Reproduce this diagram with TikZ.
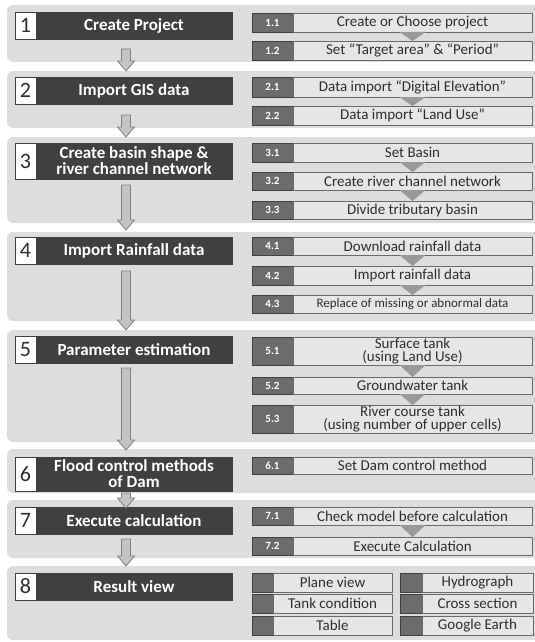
\documentclass[tikz,border=0pt]{standalone}
\usepackage{fontspec}
\setmainfont{Carlito}
\usetikzlibrary{calc}
\definecolor{panelc}{HTML}{DDDDDD}
\definecolor{darkc}{HTML}{404040}
\definecolor{subnumc}{HTML}{6C6C6C}
\definecolor{subtxtc}{HTML}{E6E6E6}
\definecolor{edgec}{HTML}{6A6A6A}
\definecolor{tric}{HTML}{999999}
\definecolor{arrfill}{HTML}{C4C4C4}
\definecolor{arredge}{HTML}{808080}
\definecolor{textc}{HTML}{2E2E2E}
\tikzset{
  panelsty/.style={fill=panelc, rounded corners=6pt},
  numbox/.style={draw=darkc, fill=white, line width=0.8pt, inner sep=0pt, outer sep=0pt,
    minimum width=21pt, text=textc, font=\fontsize{22}{22}\selectfont},
  titlebox/.style={draw=darkc, fill=darkc, inner sep=0pt, outer sep=0pt,
    minimum width=196pt, text=white, align=center, font=\bfseries\fontsize{17}{16}\selectfont},
  subnum/.style={draw=darkc, fill=subnumc, line width=0.7pt, inner sep=0pt, outer sep=0pt,
    minimum width=41pt, text=white, font=\bfseries\fontsize{11}{11}\selectfont},
  subtxt/.style={draw=edgec, fill=subtxtc, line width=0.7pt, inner sep=0pt, outer sep=0pt,
    minimum width=239pt, text=textc, align=center, font=\fontsize{15}{13.6}\selectfont},
  rvsq/.style={draw=darkc, fill=subnumc, line width=0.7pt, inner sep=0pt, outer sep=0pt},
  rvtxt/.style={draw=edgec, fill=subtxtc, line width=0.7pt, inner sep=0pt, outer sep=0pt,
    text=textc, font=\fontsize{15}{15}\selectfont},
  tristy/.style={fill=tric},
  arrsty/.style={fill=arrfill, draw=arredge, line width=0.8pt, line join=miter},
}
\newcommand\stepbox[5]{%
  \node[numbox, minimum height={(#4-#3)*1pt}, anchor=north west] (n#1) at (15,#3) {#2};
  \node[titlebox, minimum height={(#4-#3)*1pt}, anchor=north west] (t#1) at (36,#3) {#5};}
\newcommand\subbox[5]{%
  \node[subnum, minimum height={(#4-#3)*1pt}, anchor=north west] (s#1) at (252,#3) {#2};
  \node[subtxt, minimum height={(#4-#3)*1pt}, anchor=north west] (x#1) at (293,#3) {#5};}
\newcommand\tri[2]{%
  \fill[tristy] ($(x#1.south)+(-13,0)$) -- ($(x#1.south)+(13,0)$) -- (x#2.north) -- cycle;}
\newcommand\barr[3]{%
  \filldraw[arrsty] (#1-4.5,#2) -- (#1+4.5,#2) -- (#1+4.5,#3-10) -- (#1+8.5,#3-10) --
    (#1,#3) -- (#1-8.5,#3-10) -- (#1-4.5,#3-10) -- cycle;}
\newcommand\rvbox[7]{%
  \node[rvsq, minimum width={(#3-#2)*1pt}, minimum height={(#6-#5)*1pt}, anchor=north west] (q#1) at (#2,#5) {};
  \node[rvtxt, minimum width={(#4-#3)*1pt}, minimum height={(#6-#5)*1pt}, anchor=north west] (r#1) at (#3,#5) {#7};}
\begin{document}
\begin{tikzpicture}[x=1pt,y=-1pt]
\useasboundingbox (0,0) rectangle (535,642);
\fill[white] (0,0) rectangle (535,642);
% panels
\fill[panelsty] (7,5) rectangle (548,62);
\fill[panelsty] (7,71) rectangle (548,128);
\fill[panelsty] (7,137) rectangle (548,223);
\fill[panelsty] (7,232) rectangle (548,321);
\fill[panelsty] (7,330) rectangle (548,442);
\fill[panelsty] (7,449) rectangle (548,493);
\fill[panelsty] (7,500) rectangle (548,558);
\fill[panelsty] (7,566) rectangle (548,640);
% steps
\stepbox{1}{1}{12}{39}{Create Project}
\stepbox{2}{2}{77}{104}{Import GIS data}
\stepbox{3}{3}{143}{179}{Create basin shape \&\\river channel network}
\stepbox{4}{4}{237}{264}{Import Rainfall data}
\stepbox{5}{5}{336}{363}{Parameter estimation}
\stepbox{6}{6}{457}{491}{Flood control methods\\of Dam}
\stepbox{7}{7}{507}{534}{Execute calculation}
\stepbox{8}{8}{573}{600}{Result view}
% arrows
\barr{126}{49}{71}
\barr{126}{115}{137}
\barr{126}{185}{230}
\barr{126}{271}{330}
\barr{126}{368}{450}
\barr{126}{493}{508}
\barr{126}{539}{566}
% sub steps
\subbox{11}{1.1}{13}{32}{Create or Choose project}
\subbox{12}{1.2}{41}{60}{Set “Target area” \& “Period”}
\tri{11}{12}
\subbox{21}{2.1}{77}{97}{Data import “Digital Elevation”}
\subbox{22}{2.2}{106}{125}{Data import “Land Use”}
\tri{21}{22}
\subbox{31}{3.1}{143}{162}{Set Basin}
\subbox{32}{3.2}{172}{190}{Create river channel network}
\subbox{33}{3.3}{201}{219}{Divide tributary basin}
\tri{31}{32}
\tri{32}{33}
\subbox{41}{4.1}{237}{255}{Download rainfall data}
\subbox{42}{4.2}{266}{285}{Import rainfall data}
\subbox{43}{4.3}{295}{313}{{\fontsize{13}{13}\selectfont Replace of missing or abnormal data}}
\tri{41}{42}
\tri{42}{43}
\subbox{51}{5.1}{337}{365}{Surface tank\\(using Land Use)}
\subbox{52}{5.2}{377}{394}{Groundwater tank}
\subbox{53}{5.3}{405}{433}{River course tank\\(using number of upper cells)}
\tri{51}{52}
\tri{52}{53}
\subbox{61}{6.1}{457}{474}{Set Dam control method}
\subbox{71}{7.1}{507}{525}{Check model before calculation}
\subbox{72}{7.2}{537}{555}{Execute Calculation}
\tri{71}{72}
% result view
\rvbox{a}{252}{273}{392}{573}{592}{Plane view}
\rvbox{b}{252}{273}{392}{594}{613}{Tank condition}
\rvbox{c}{252}{273}{392}{616}{635}{Table}
\rvbox{d}{400}{422}{533}{573}{592}{Hydrograph}
\rvbox{e}{400}{422}{533}{594}{613}{Cross section}
\rvbox{f}{400}{422}{533}{616}{635}{Google Earth}
\end{tikzpicture}
\end{document}
